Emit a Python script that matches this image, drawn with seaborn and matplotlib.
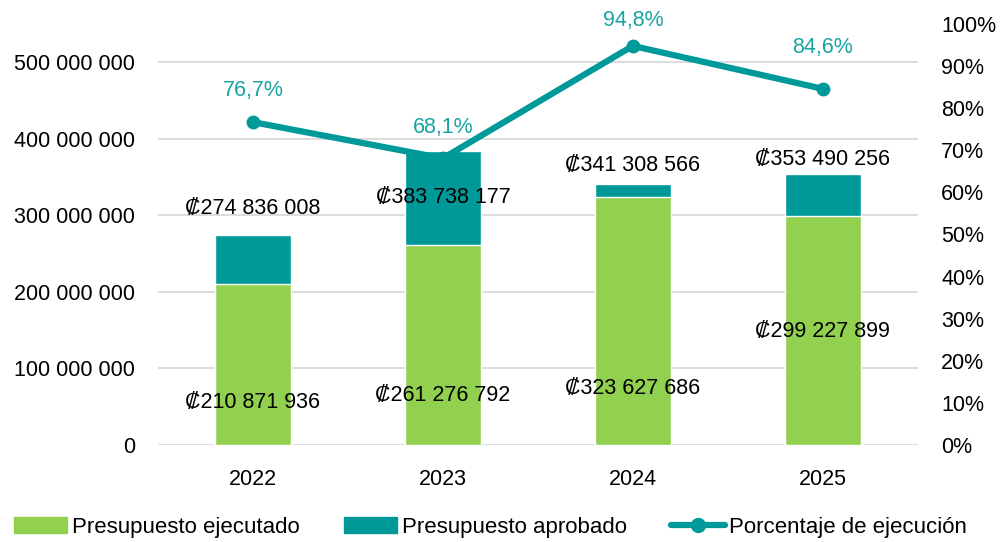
import numpy as np
import pandas as pd
import seaborn as sns
import matplotlib.pyplot as plt
from matplotlib.ticker import FuncFormatter, MultipleLocator
from matplotlib.patches import Patch
from matplotlib.lines import Line2D

years = ["2022", "2023", "2024", "2025"]
aprobado = [274836008, 383738177, 341308566, 353490256]
ejecutado = [210871936, 261276792, 323627686, 299227899]
porcentaje = [0.767, 0.681, 0.948, 0.846]

# where Excel put the data labels (left axis units / right axis units)
lbl_aprob_y = [309.6e6, 322.7e6, 364.5e6, 373.6e6]
lbl_ejec_y = [54.9e6, 65.3e6, 73.2e6, 148.9e6]
lbl_pct_y = [0.843, 0.753, 1.009, 0.945]

GREEN = "#92D050"
TEAL = "#009999"
TEAL_TXT = "#1AA3A3"
FS = 15.5

sns.set_theme(style="white")
plt.rcParams["font.family"] = ["Liberation Sans", "DejaVu Sans"]
plt.rcParams["font.size"] = FS
plt.rcParams["text.color"] = "black"

df = pd.DataFrame({"year": years, "aprobado": aprobado, "ejecutado": ejecutado})

fig = plt.figure(figsize=(10.03, 5.42), dpi=100)
ax = fig.add_axes([0.1575, 0.179, 0.7575, 0.7767])

sns.barplot(data=df, x="year", y="aprobado", color=TEAL, width=0.4,
            saturation=1, ax=ax, zorder=2)
sns.barplot(data=df, x="year", y="ejecutado", color=GREEN, width=0.4,
            saturation=1, ax=ax, zorder=3)

ax.set_ylim(0, 550e6)
ax.set_xlim(-0.5, 3.5)
ax.yaxis.set_major_locator(MultipleLocator(100e6))
ax.yaxis.set_major_formatter(FuncFormatter(lambda v, p: f"{v:,.0f}".replace(",", " ")))
ax.grid(axis="y", color="#D9D9D9", lw=1.3, zorder=0)
ax.set_axisbelow(True)
for s in ax.spines.values():
    s.set_visible(False)
ax.set_xlabel("")
ax.set_ylabel("")
ax.tick_params(axis="y", length=0, pad=16.5, labelsize=FS, colors="black")
ax.tick_params(axis="x", length=0, pad=17, labelsize=FS, colors="black")

for i in range(len(years)):
    ax.text(i, lbl_aprob_y[i], f"₡{aprobado[i]:,}".replace(",", " "),
            ha="center", va="center", fontsize=FS, color="black", zorder=5, clip_on=False)
    ax.text(i, lbl_ejec_y[i], f"₡{ejecutado[i]:,}".replace(",", " "),
            ha="center", va="center", fontsize=FS, color="black", zorder=5)

ax2 = ax.twinx()
sns.lineplot(x=np.arange(len(years)), y=porcentaje, color=TEAL, lw=4.5,
             marker="o", markersize=10, markeredgewidth=0, ax=ax2, zorder=4)
ax2.set_ylim(0, 1)
ax2.set_xlim(-0.5, 3.5)
ax2.yaxis.set_major_locator(MultipleLocator(0.1))
ax2.yaxis.set_major_formatter(FuncFormatter(lambda v, p: f"{v*100:.0f}%"))
ax2.tick_params(axis="y", length=0, pad=17, labelsize=FS, colors="black")
for s in ax2.spines.values():
    s.set_visible(False)
ax2.grid(False)

for i in range(len(years)):
    ax2.text(i, lbl_pct_y[i], f"{porcentaje[i]*100:.1f}%".replace(".", ","),
             ha="center", va="center", fontsize=FS, color=TEAL_TXT, clip_on=False)

handles = [Patch(color=GREEN, label="Presupuesto ejecutado"),
           Patch(color=TEAL, label="Presupuesto aprobado"),
           Line2D([0], [0], color=TEAL, lw=4.5, marker="o", markersize=10,
                  label="Porcentaje de ejecución")]
fig.legend(handles=handles, loc="center", bbox_to_anchor=(0.489, 0.027), ncol=3,
           frameon=False, fontsize=FS + 0.5, handlelength=2.4, handletextpad=0.2,
           columnspacing=2.0, labelcolor="black")

fig.savefig("out.png", dpi=100)
